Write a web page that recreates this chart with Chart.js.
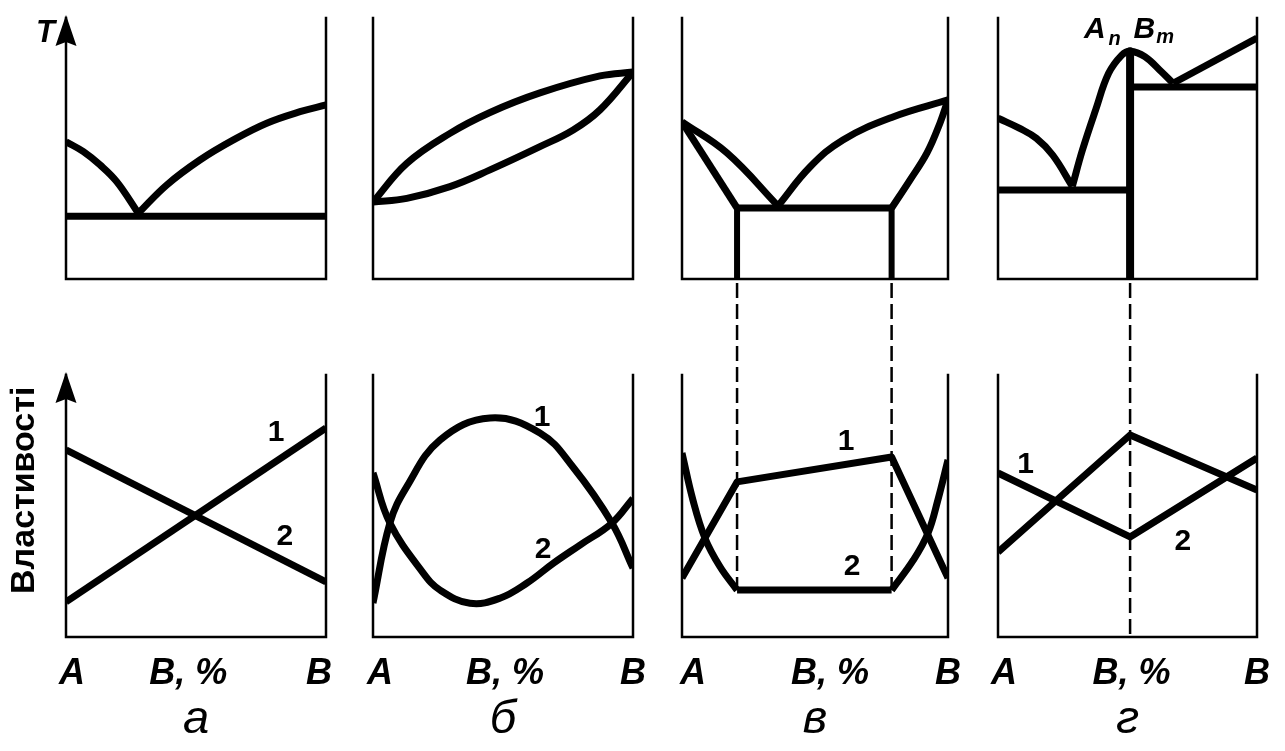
<!DOCTYPE html>
<html lang="uk">
<head>
<meta charset="utf-8">
<title>Діаграми стану та властивості сплавів</title>
<script src="https://cdn.jsdelivr.net/npm/chart.js@4.4.1/dist/chart.umd.min.js"></script>
<style>
  html, body { margin: 0; padding: 0; background: #fff; }
  #figure { position: relative; width: 1285px; height: 751px; overflow: hidden; background: #fff; }
  #figure canvas { position: absolute; left: 0; top: 0; }
</style>
</head>
<body>
<div id="figure">
  <canvas id="colA" width="1285" height="751"></canvas>
  <canvas id="colB" width="1285" height="751"></canvas>
  <canvas id="colV" width="1285" height="751"></canvas>
  <canvas id="colG" width="1285" height="751"></canvas>
</div>
<script>
// Composition runs from pure A (0) to pure B (100, % of B).
// Upper diagrams: temperature T; lower diagrams: properties 1 and 2.
// Both vertical scales are relative units 0–100.

const xTickLabels = ['A', 'B, %', 'B'];
const captions = ['а', 'б', 'в', 'г'];
const axisNames = { top: 'T', bottom: 'Властивості' };

// а — components mutually insoluble in the solid state (eutectic mixture)
const aLiquidusA = [[0, 52.6], [6.7, 48.8], [13.1, 43.7], [19.5, 37.3], [27.8, 25.2]];
const aLiquidusB = [[27.8, 25.2], [38.7, 36], [51.5, 45.6], [64.4, 53.3], [77.2, 59.7], [90, 64.1], [100, 66.7]];
const aEutectic  = [[0, 24], [100, 24]];
const aProperty1 = [[0, 13.4], [100, 79.8]];
const aProperty2 = [[0, 71.4], [100, 21]];
const aNumbers   = [{ text: '1', x: 80.8, y: 77.9 }, { text: '2', x: 84.2, y: 38.2 }];

// б — unlimited solubility in the solid state
const bLiquidus  = [[0, 29.5], [13, 44.3], [29.6, 55.8], [45, 63.8], [64.2, 71.3], [87.3, 77.8], [100, 79.3]];
const bSolidus   = [[0, 29.5], [13, 30.9], [29.6, 35.4], [45, 41.8], [64.2, 50.7], [77, 57.1], [87.3, 64.8], [100, 79.3]];
const bProperty1 = [[0, 13], [6.5, 43.5], [13, 57.4], [25.8, 75.2], [45, 83.6], [64.2, 77.9], [76.9, 64.9], [91.9, 43.5], [100, 26.3]];
const bProperty2 = [[0, 62.6], [6.5, 43.5], [19.4, 24.3], [25.8, 17.9], [37.3, 12.9], [48.8, 14.8], [59.1, 20.5], [69.3, 28.1], [79.6, 35.1], [91.8, 43.4], [100, 52.9]];
const bNumbers   = [{ text: '1', x: 65, y: 83.6 }, { text: '2', x: 65.4, y: 33.2 }];

// в — limited solubility in the solid state
const vLiquidusA = [[0, 60.2], [16.9, 48.3], [36.1, 28]];
const vSolidusA  = [[0, 60.2], [20.7, 27.2]];
const vEutectic  = [[20.7, 27.2], [78.8, 27.2]];
const vLiquidusB = [[36.1, 28], [48.1, 42.9], [60.5, 53.3], [79.3, 62.1], [100, 68.6]];
const vSolidusB  = [[78.8, 27.2], [85.7, 37.9], [92.1, 48.3], [97, 59.8], [100, 68.6]];
const vSolvusA   = [[20.7, 27.2], [20.7, 0]];
const vSolvusB   = [[78.8, 27.2], [78.8, 0]];
const vProperty1 = [[0, 22.5], [20.7, 59.2], [78.8, 68.7], [100, 22.5]];
const vProperty2A = [[0, 70.2], [4.1, 52.3], [8.6, 37.8], [14.3, 26.8], [20.7, 17.9]];
const vProperty2M = [[20.7, 17.9], [78.8, 17.9]];
const vProperty2B = [[78.8, 17.9], [87, 29.4], [92.5, 39.7], [96.2, 52.3], [100, 67.6]];
const vGuides    = [{ x: 20.7, to: 17.9 }, { x: 78.8, to: 17.9 }];
const vNumbers   = [{ text: '1', x: 61.7, y: 74.4 }, { text: '2', x: 63.9, y: 26.7 }];

// г — stable chemical compound AnBm
const gLiquidusA = [[0, 61.6], [8.4, 57.7], [14.8, 53.9], [21.1, 47.5], [28.7, 35.5]];
const gEutecticA = [[0, 34.1], [51, 34.1]];
const gLiquidusC = [[28.7, 35.5], [32.6, 49.4], [37.7, 64.8], [42.7, 78.8], [47.8, 85.8], [51, 87.3], [56.7, 85.2], [63.1, 79.4], [67.6, 75]];
const gEutecticB = [[51, 73.6], [100, 73.6]];
const gLiquidusB = [[67.6, 75], [100, 92.3]];
const gCompound  = [[51, 87.3], [51, 0]];
const gProperty1 = [[0, 62.6], [51, 38.2], [100, 68.3]];
const gProperty2 = [[0, 32.4], [51, 77.1], [100, 56.1]];
const gGuides    = [{ x: 51, to: 0 }];
const gNumbers   = [{ text: '1', x: 10.7, y: 65.6 }, { text: '2', x: 71.4, y: 36.3 }];
const gFormula   = [
  { text: 'A', x: 33.2, y: 92.3, sub: false },
  { text: 'n', x: 42.7, y: 89.7, sub: true },
  { text: 'B', x: 52.3, y: 92.3, sub: false },
  { text: 'm', x: 61.1, y: 90.4, sub: true }
];

const INK = '#000';
const FONT = '"Liberation Sans", Arial, Helvetica, sans-serif';
const W = 1285;

Chart.defaults.font.family = FONT;
Chart.defaults.color = INK;

// Open-topped frame of every panel, optional arrow heads, dashed guides between the rows
const framePlugin = {
  id: 'panelFrame',
  beforeDatasetsDraw(chart, _args, opts) {
    const { ctx, scales } = chart;
    const xs = scales.x;
    const x0 = xs.getPixelForValue(0);
    const x1 = xs.getPixelForValue(100);
    ctx.save();
    ctx.strokeStyle = INK;
    ctx.fillStyle = INK;
    ctx.lineWidth = 2.5;
    ctx.lineCap = 'square';
    ctx.lineJoin = 'miter';
    for (const id of ['yT', 'yP']) {
      const ys = scales[id];
      const top = ys.getPixelForValue(ys.max);
      const bottom = ys.getPixelForValue(ys.min);
      ctx.beginPath();
      ctx.moveTo(x0, top);
      ctx.lineTo(x0, bottom);
      ctx.lineTo(x1, bottom);
      ctx.lineTo(x1, top);
      ctx.stroke();
      if (opts.arrows) {
        const tip = top - 3;
        ctx.beginPath();
        ctx.moveTo(x0, tip);
        ctx.lineTo(x0 + 10.5, tip + 31);
        ctx.lineTo(x0, tip + 27);
        ctx.lineTo(x0 - 10.5, tip + 31);
        ctx.closePath();
        ctx.fill();
      }
    }
    const guides = opts.guides || [];
    if (guides.length) {
      ctx.lineWidth = 2.5;
      ctx.lineCap = 'butt';
      ctx.setLineDash([15, 6]);
      for (const g of guides) {
        const gx = xs.getPixelForValue(g.x);
        ctx.beginPath();
        ctx.moveTo(gx, scales.yT.getPixelForValue(0) + 4);
        ctx.lineTo(gx, scales.yP.getPixelForValue(g.to));
        ctx.stroke();
      }
    }
    ctx.restore();
  }
};

// Curve numbers, axis names and the compound formula
const notesPlugin = {
  id: 'notes',
  afterDatasetsDraw(chart, _args, opts) {
    const { ctx, scales } = chart;
    const xs = scales.x, yT = scales.yT, yP = scales.yP;
    ctx.save();
    ctx.fillStyle = INK;
    ctx.textAlign = 'center';
    ctx.textBaseline = 'middle';
    ctx.font = `bold 30px ${FONT}`;
    for (const n of opts.numbers || []) {
      ctx.fillText(n.text, xs.getPixelForValue(n.x), yP.getPixelForValue(n.y));
    }
    if (opts.formula) {
      ctx.textAlign = 'left';
      ctx.textBaseline = 'alphabetic';
      for (const p of opts.formula) {
        ctx.font = `italic bold ${p.sub ? 20 : 30}px ${FONT}`;
        ctx.fillText(p.text, xs.getPixelForValue(p.x), yT.getPixelForValue(p.y));
      }
    }
    if (opts.axisNames) {
      const x0 = xs.getPixelForValue(0);
      ctx.font = `italic bold 31px ${FONT}`;
      ctx.textAlign = 'right';
      ctx.textBaseline = 'alphabetic';
      ctx.fillText(opts.axisNames.top, x0 - 11, yT.getPixelForValue(90.8));
      ctx.translate(x0 - 41, yP.getPixelForValue(56));
      ctx.rotate(-Math.PI / 2);
      ctx.font = `bold 34px ${FONT}`;
      ctx.textAlign = 'center';
      ctx.textBaseline = 'middle';
      ctx.fillText(opts.axisNames.bottom, 0, 0);
    }
    ctx.restore();
  }
};

function curve(points, axis, smooth, width) {
  return {
    data: points.map(([x, y]) => ({ x, y })),
    yAxisID: axis,
    borderColor: INK,
    borderWidth: width || 7,
    pointRadius: 0,
    fill: false,
    tension: smooth ? 0.4 : 0,
    cubicInterpolationMode: 'default',
    borderCapStyle: 'butt',
    borderJoinStyle: 'round'
  };
}

function column(canvasId, cfg) {
  return new Chart(document.getElementById(canvasId), {
    type: 'line',
    data: { datasets: cfg.datasets },
    options: {
      responsive: false,
      animation: false,
      devicePixelRatio: 1,
      events: [],
      layout: { padding: { left: cfg.left, right: W - cfg.right, top: 18, bottom: 0 } },
      scales: {
        x: {
          type: 'linear', min: 0, max: 100, position: 'bottom',
          grid: { display: false, drawTicks: false },
          border: { display: false },
          afterFit: (s) => { s.height = 114; },
          afterBuildTicks: (s) => { s.ticks = cfg.labelAt.map(v => ({ value: v })); },
          ticks: {
            autoSkip: false, maxRotation: 0, minRotation: 0, padding: 15, color: INK,
            font: { family: FONT, size: 36, style: 'italic', weight: 'bold' },
            callback: (_v, i) => xTickLabels[i]
          },
          title: {
            display: true, text: cfg.caption, color: INK,
            font: { family: FONT, size: 47, style: 'italic', weight: 'normal' },
            padding: { top: 0, bottom: 3 }
          }
        },
        yT:   { type: 'linear', display: false, min: 0, max: 100, position: 'left', stack: 'col', stackWeight: 261, weight: 3 },
        yGap: { type: 'linear', display: false, min: 0, max: 1,   position: 'left', stack: 'col', stackWeight: 96,  weight: 2 },
        yP:   { type: 'linear', display: false, min: 0, max: 100, position: 'left', stack: 'col', stackWeight: 262, weight: 1 }
      },
      plugins: {
        legend: { display: false },
        tooltip: { enabled: false },
        panelFrame: { arrows: !!cfg.arrows, guides: cfg.guides || [] },
        notes: { numbers: cfg.numbers, formula: cfg.formula, axisNames: cfg.axisNames }
      }
    },
    plugins: [framePlugin, notesPlugin]
  });
}

column('colA', {
  left: 66, right: 326, caption: captions[0], labelAt: [2.3, 47, 97.3], arrows: true,
  axisNames: axisNames, numbers: aNumbers,
  datasets: [
    curve(aLiquidusA, 'yT', true), curve(aLiquidusB, 'yT', true), curve(aEutectic, 'yT'),
    curve(aProperty1, 'yP'), curve(aProperty2, 'yP')
  ]
});

column('colB', {
  left: 373, right: 633, caption: captions[1], labelAt: [2.7, 50.8, 100], numbers: bNumbers,
  datasets: [
    curve(bLiquidus, 'yT', true), curve(bSolidus, 'yT', true),
    curve(bProperty1, 'yP', true), curve(bProperty2, 'yP', true)
  ]
});

column('colV', {
  left: 682, right: 948, caption: captions[2], labelAt: [4.1, 55.6, 100], numbers: vNumbers, guides: vGuides,
  datasets: [
    curve(vLiquidusA, 'yT', true), curve(vSolidusA, 'yT'), curve(vEutectic, 'yT'),
    curve(vLiquidusB, 'yT', true), curve(vSolidusB, 'yT', true),
    curve(vSolvusA, 'yT', false, 6), curve(vSolvusB, 'yT', false, 6),
    curve(vProperty1, 'yP'), curve(vProperty2A, 'yP', true), curve(vProperty2M, 'yP'), curve(vProperty2B, 'yP', true)
  ]
});

column('colG', {
  left: 998, right: 1260, caption: captions[3], labelAt: [2.3, 51.5, 100], numbers: gNumbers, guides: gGuides,
  formula: gFormula,
  datasets: [
    curve(gLiquidusA, 'yT', true), curve(gEutecticA, 'yT'), curve(gLiquidusC, 'yT', true),
    curve(gEutecticB, 'yT'), curve(gLiquidusB, 'yT'), curve(gCompound, 'yT', false, 8),
    curve(gProperty1, 'yP'), curve(gProperty2, 'yP')
  ]
});
</script>
</body>
</html>
